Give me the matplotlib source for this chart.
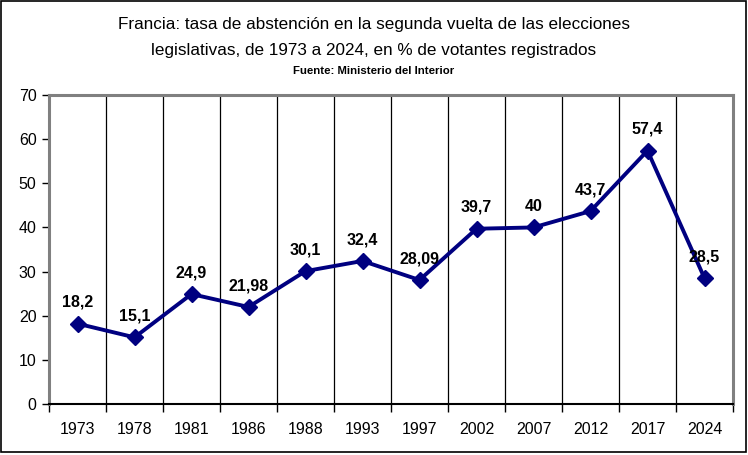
import matplotlib.pyplot as plt
from matplotlib.patches import Rectangle

years = ["1973", "1978", "1981", "1986", "1988", "1993", "1997", "2002", "2007", "2012", "2017", "2024"]
abstention = [18.2, 15.1, 24.9, 21.98, 30.1, 32.4, 28.09, 39.7, 40, 43.7, 57.4, 28.5]
labels = ["18,2", "15,1", "24,9", "21,98", "30,1", "32,4", "28,09", "39,7", "40", "43,7", "57,4", "28,5"]

plt.rcParams['font.family'] = ['Liberation Sans', 'DejaVu Sans']

fig = plt.figure(figsize=(7.48, 4.55), dpi=100)
W, H = 748, 455
ax = fig.add_axes([49 / W, 1 - 404 / H, (733 - 49) / W, (404 - 95) / H])

x = list(range(len(years)))
ax.plot(x, abstention, color="#000080", lw=2.8, marker="D", ms=8, mec="#000080", mfc="#000080", clip_on=False, zorder=3)
for xi, v, lab in zip(x, abstention, labels):
    ax.annotate(lab, (xi, v), xytext=(0, 10), textcoords="offset points", ha="center", va="bottom",
                fontsize=11.5, fontweight="bold", zorder=4)

ax.set_xlim(-0.5, len(years) - 0.5)
ax.set_ylim(0, 70)
ax.set_yticks(range(0, 71, 10))
ax.set_xticks(x)
ax.set_xticklabels(years)
ax.tick_params(axis="x", length=0, pad=13, labelsize=11.5)
ax.tick_params(axis="y", length=5, width=1, direction="out", labelsize=11.5, pad=4)
# boundary ticks and vertical grid lines between categories
ax.set_xticks([i - 0.5 for i in range(len(years) + 1)], minor=True)
ax.tick_params(axis="x", which="minor", length=6, width=1, direction="out")
for i in range(1, len(years)):
    ax.axvline(i - 0.5, color="black", lw=0.9, zorder=1)

for s in ["top", "right", "left"]:
    ax.spines[s].set_color("#808080")
    ax.spines[s].set_linewidth(2.2)
ax.spines["bottom"].set_color("black")
ax.spines["bottom"].set_linewidth(1.5)

fig.text(0.5, 1 - 24 / H, "Francia: tasa de abstención en la segunda vuelta de las elecciones",
         ha="center", va="center", fontsize=12.3)
fig.text(0.5, 1 - 50 / H, "legislativas, de 1973 a 2024, en % de votantes registrados",
         ha="center", va="center", fontsize=12.3)
fig.text(0.5, 1 - 71 / H, "Fuente: Ministerio del Interior",
         ha="center", va="center", fontsize=8.2, fontweight="bold")

fig.patches.append(Rectangle((1 / W, 3 / H), 745 / W, 451 / H, transform=fig.transFigure,
                             fill=False, ec="black", lw=1.2))

fig.savefig("out.png", dpi=100)
